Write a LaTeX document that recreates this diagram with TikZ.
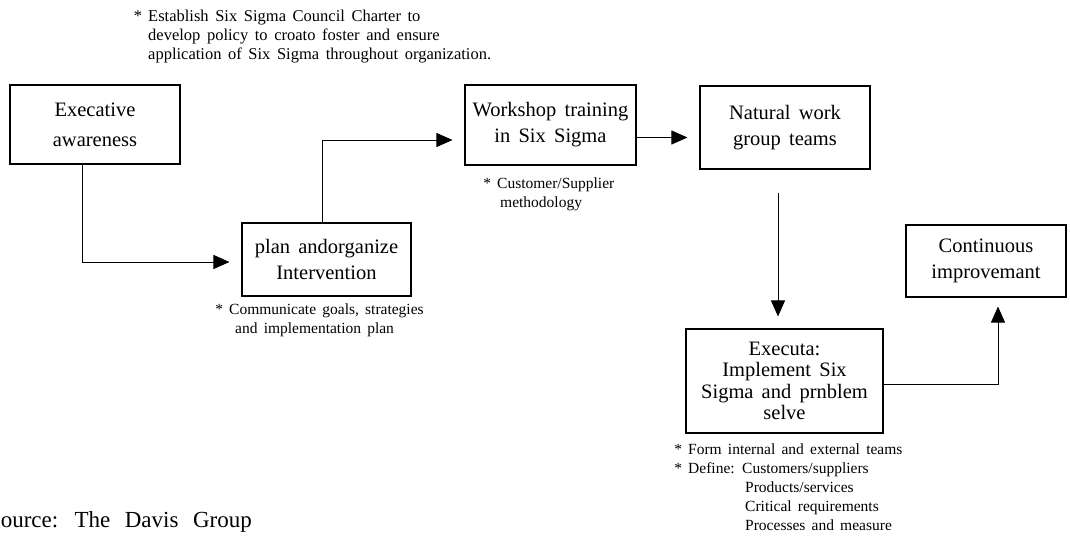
\documentclass[tikz,border=0pt]{standalone}
\usepackage{fontspec}
\setmainfont{Liberation Serif}
\usetikzlibrary{arrows.meta}

\newcommand{\boxfont}{\fontsize{20.5}{26}\selectfont\spaceskip=0.4em\relax}
\newcommand{\boxfontloose}{\fontsize{20.5}{30}\selectfont\spaceskip=0.4em\relax}
\newcommand{\boxfonttight}{\fontsize{20.5}{21.5}\selectfont\spaceskip=0.4em\relax}
\newcommand{\notefont}{\fontsize{15.5}{19}\selectfont\spaceskip=0.4em\relax}
\newcommand{\charterfont}{\fontsize{16.5}{19}\selectfont\spaceskip=0.4em\relax}
\newcommand{\sourcefont}{\fontsize{23}{26}\selectfont\spaceskip=0.63em\relax}
\newcommand{\bullstar}{\llap{*\hspace{6pt}}}

\begin{document}
\begin{tikzpicture}
		[
			x=1pt, y=-1pt,
			box/.style={draw, line width=1.1pt, align=center, inner sep=2pt, font=\boxfont},
			boxloose/.style={box, font=\boxfontloose},
			boxtight/.style={box, font=\boxfonttight},
			note/.style={align=left, anchor=base west, inner sep=0pt, font=\notefont},
			arrow/.style={-{Triangle[length=16pt, width=14pt]}, line width=0.9pt, shorten >=12pt},
		]

		\useasboundingbox (0,0) rectangle (1070,536);

		% Boxes
		\node[boxloose, minimum width=170pt, minimum height=79pt] (aware) at (95,124.5) {Execative\\awareness};
		\node[box, minimum width=169pt, minimum height=73pt] (plan) at (326.5,259.5) {plan andorganize\\Intervention};
		\node[box, minimum width=171pt, minimum height=80pt] (workshop) at (550.5,125) {Workshop training\\in Six Sigma};
		\node[box, minimum width=170pt, minimum height=83pt] (teams) at (785,127.5) {Natural work\\group teams};
		\node[box, minimum width=160pt, minimum height=72pt] (improve) at (986,261) {Continuous\\improvemant};
		\node[boxtight, minimum width=197pt, minimum height=104pt] (implement) at (784.5,381)
			{Executa:\\Implement Six\\Sigma and prnblem\\selve};

		% Notes (anchored on the last line)
		\node[note, font=\charterfont] (charter) at (148,59)
			{\bullstar Establish Six Sigma Council Charter to\\
			develop policy to croato foster and ensure\\
			application of Six Sigma throughout organization.};
		\node[note] (method) at (497,207)
			{\bullstar Customer/Supplier\\\hspace*{3pt}methodology};
		\node[note] (communicate) at (229,333)
			{\bullstar Communicate goals, strategies\\\hspace*{6pt}and implementation plan};
		\node[note] (define) at (688,530)
			{\bullstar Form internal and external teams\\
			\bullstar Define: Customers/suppliers\\
			\hspace*{57pt}Products/services\\
			\hspace*{57pt}Critical requirements\\
			\hspace*{57pt}Processes and measure};
		\node[anchor=base east, inner sep=0pt, font=\sourcefont] (source) at (252,527) {Source: The Davis Group};

		% Flow
		\draw[arrow] ([xshift=-13pt]aware.south) |- ([yshift=-2.5pt]plan.west);
		\draw[arrow] ([xshift=-4.5pt]plan.north) |- ([yshift=-15pt]workshop.west);
		\draw[arrow] ([yshift=-12.5pt]workshop.east) -- ([yshift=-12.5pt]workshop.east -| teams.west);
		\draw[arrow, shorten <=23pt] ([xshift=-7pt]teams.south) -- ([xshift=-7pt]teams.south |- implement.north);
		\draw[arrow, shorten >=9pt] ([yshift=-3pt]implement.east) -| ([xshift=12pt]improve.south);

		\end{tikzpicture}
\end{document}
